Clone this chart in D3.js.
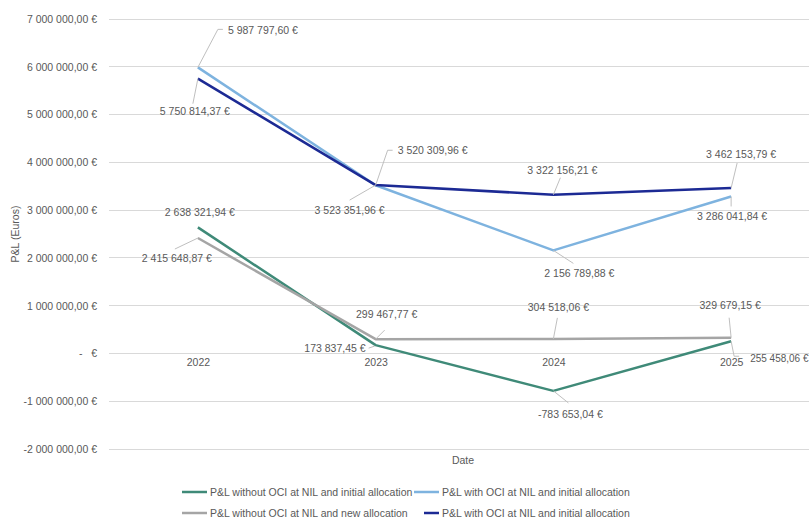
<!DOCTYPE html>
<html>
<head>
<meta charset="utf-8">
<script src="https://cdn.jsdelivr.net/npm/d3@7"></script>
<style>
  html, body { margin: 0; padding: 0; background: #fff; }
  svg text { font-family: "Liberation Sans", Arial, sans-serif; fill: #595959; }
</style>
</head>
<body>
<svg id="chart" width="809" height="519"></svg>
<script>
// P&L per year for each allocation scenario
const years = ["2022", "2023", "2024", "2025"];
const plWithoutOciInitial = [2638321.94, 173837.45, -783653.04, 255458.06];
const plWithOciInitial    = [5987797.60, 3520309.96, 2156789.88, 3286041.84];
const plWithoutOciNew     = [2415648.87, 299467.77, 304518.06, 329679.15];
const plWithOciInitial2   = [5750814.37, 3523351.96, 3322156.21, 3462153.79];
const seriesNames = [
  "P&L without OCI at NIL and initial allocation",
  "P&L with OCI at NIL and initial allocation",
  "P&L without OCI at NIL and new allocation",
  "P&L with OCI at NIL and initial allocation"
];
const yTicks = [-2000000, -1000000, 0, 1000000, 2000000, 3000000, 4000000, 5000000, 6000000, 7000000];

const colors = ["#3f8a78", "#7eb3df", "#a5a5a5", "#1c2a94"];
const seriesValues = [plWithoutOciInitial, plWithOciInitial, plWithoutOciNew, plWithOciInitial2];

// Data-label placement: text offset from the point and leader-line bend points (relative px)
const labelLayout = [
  [ {dx: 2, dy: -15, anchor: "middle", leader: null},
    {dx: -10, dy: 3, anchor: "end", leader: [[-1,1],[-7,3]]},
    {dx: 17, dy: 23, anchor: "middle", leader: [[0,0],[15,12]]},
    {dx: 19, dy: 17, anchor: "start", leader: [[0,0],[3,15],[8,15]]} ],
  [ {dx: 30, dy: -37, anchor: "start", leader: [[0,0],[20,-38],[25,-38]]},
    {dx: 22, dy: -35, anchor: "start", leader: [[0,0],[12,-35],[17,-35]]},
    {dx: 26, dy: 23, anchor: "middle", leader: [[0,0],[20,13]]},
    {dx: 1, dy: 20, anchor: "middle", leader: [[0,0],[0,10]]} ],
  [ {dx: -21, dy: 20, anchor: "middle", leader: [[0,0],[-23,11]]},
    {dx: 11, dy: -25, anchor: "middle", leader: [[0,0],[9,-9]]},
    {dx: 5, dy: -32, anchor: "middle", leader: [[0,0],[4,-21]]},
    {dx: -1, dy: -32, anchor: "middle", leader: [[0,0],[-2,-20]]} ],
  [ {dx: -3, dy: 33, anchor: "middle", leader: [[0,0],[-5,25]]},
    {dx: -26, dy: 25, anchor: "middle", leader: [[0,0],[-26,15]]},
    {dx: 9, dy: -24, anchor: "middle", leader: [[0,0],[7,-17]]},
    {dx: 10, dy: -34, anchor: "middle", leader: [[0,0],[6,-25]]} ]
];

const svg = d3.select("#chart");

const x = d3.scalePoint().domain(years).range([109, 820]).padding(0.5);
const y = d3.scaleLinear().domain([-2000000, 7000000]).range([449, 19]);

const loc = d3.formatLocale({decimal: ",", thousands: "\u00a0", grouping: [3], currency: ["", ""], minus: "-"});
const fmt = loc.format(",.2f");
const euro = v => fmt(v).replace(/\u00a0/g, " ") + " €";

// Gridlines
svg.append("g")
  .selectAll("line")
  .data(yTicks)
  .join("line")
  .attr("x1", 109).attr("x2", 820)
  .attr("y1", d => y(d)).attr("y2", d => y(d))
  .attr("stroke", "#d9d9d9").attr("stroke-width", 1).attr("shape-rendering", "crispEdges");

// Y axis labels
const yAxis = d3.axisLeft(y).tickValues(yTicks).tickSize(0).tickPadding(0)
  .tickFormat(d => d === 0 ? "-\u00a0\u00a0\u00a0€" : euro(d));
const yg = svg.append("g").attr("transform", "translate(97,0)").call(yAxis);
yg.select(".domain").remove();
yg.selectAll("text").attr("font-size", 10.5).attr("font-family", "Liberation Sans, Arial, sans-serif").attr("fill", "#595959");

// Category labels under the zero line
const xAxis = d3.axisBottom(x).tickSize(0).tickPadding(0);
const xg = svg.append("g").attr("transform", `translate(0,${y(0) + 5})`).call(xAxis);
xg.select(".domain").remove();
xg.selectAll("text").attr("font-size", 10.5).attr("font-family", "Liberation Sans, Arial, sans-serif").attr("fill", "#595959");

// Axis titles
svg.append("text")
  .attr("transform", `translate(19,${y(2500000)}) rotate(-90)`)
  .attr("text-anchor", "middle").attr("font-size", 10.5)
  .text("P&L (Euros)");
svg.append("text")
  .attr("x", 463).attr("y", 464)
  .attr("text-anchor", "middle").attr("font-size", 10.5)
  .text("Date");

// Series lines
const line = d3.line().x((d, i) => x(years[i])).y(d => y(d));
seriesValues.forEach((vals, s) => {
  svg.append("path")
    .datum(vals)
    .attr("d", line)
    .attr("fill", "none")
    .attr("stroke", colors[s])
    .attr("stroke-width", 2.5)
    .attr("stroke-linejoin", "round");
});

// Data labels with leader lines
seriesValues.forEach((vals, s) => {
  vals.forEach((v, i) => {
    const px = x(years[i]), py = y(v);
    const L = labelLayout[s][i];
    if (L.leader) {
      svg.append("polyline")
        .attr("points", L.leader.map(p => `${px + p[0]},${py + p[1]}`).join(" "))
        .attr("fill", "none").attr("stroke", "#bfbfbf").attr("stroke-width", 1);
    }
    svg.append("text")
      .attr("x", px + L.dx).attr("y", py + L.dy)
      .attr("dy", "0.35em")
      .attr("text-anchor", L.anchor)
      .attr("font-size", (s === 0 && i === 3) ? 10 : 10.5)
      .text(euro(v));
  });
});

// Legend
const legendPos = [[182, 492, 25], [414, 492, 25], [182, 513, 25], [424, 513, 15]];
seriesNames.forEach((name, s) => {
  const [lx, ly, len] = legendPos[s];
  const tx = s % 2 === 0 ? 210 : 442;
  svg.append("line")
    .attr("x1", lx).attr("x2", lx + len).attr("y1", ly).attr("y2", ly)
    .attr("stroke", colors[s]).attr("stroke-width", 2.5);
  svg.append("text")
    .attr("x", tx).attr("y", ly).attr("dy", "0.35em")
    .attr("font-size", 10.5)
    .text(name);
});
</script>
</body>
</html>
